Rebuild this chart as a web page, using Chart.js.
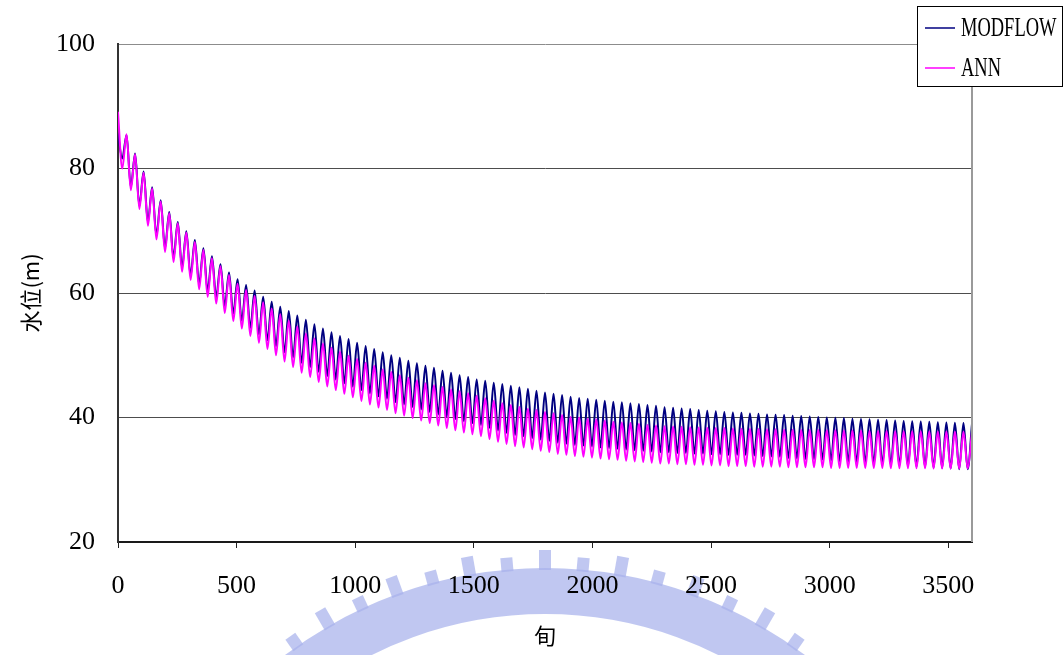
<!DOCTYPE html>
<html>
<head>
<meta charset="utf-8">
<script src="https://cdn.jsdelivr.net/npm/chart.js@4.4.1/dist/chart.umd.min.js"></script>
<style>
  html, body { margin: 0; padding: 0; background: #fff; }
  #wrap { width: 1064px; height: 655px; position: relative; }
</style>
</head>
<body>
<div id="wrap"><canvas id="c" width="1064" height="655"></canvas></div>
<script>
// one seasonal cycle = 36 旬 (ten-day periods)
const cycleLength = 36;

// water level (m) at the high point of each cycle, cycle 0..100
const modflowPeaks = [
  85.5, 85.4, 82.4, 79.5, 77.0, 74.9, 73.0, 71.4, 69.9, 68.5,
  67.2, 65.9, 64.6, 63.3, 62.2, 61.3, 60.4, 59.4, 58.6, 57.8,
  57.1, 56.4, 55.7, 55.0, 54.3, 53.7, 53.1, 52.6, 52.0, 51.5,
  51.0, 50.5, 50.0, 49.6, 49.1, 48.7, 48.3, 48.0, 47.5, 47.2,
  46.8, 46.5, 46.1, 45.9, 45.6, 45.4, 45.1, 44.85, 44.6, 44.3,
  44.0, 43.8, 43.6, 43.35, 43.15, 43.0, 42.85, 42.7, 42.55, 42.45,
  42.3, 42.15, 42.0, 41.9, 41.65, 41.55, 41.45, 41.35, 41.2, 41.1,
  41.0, 40.9, 40.8, 40.75, 40.65, 40.6, 40.5, 40.45, 40.4, 40.3,
  40.25, 40.15, 40.1, 40.0, 39.95, 39.9, 39.8, 39.75, 39.7, 39.65,
  39.6, 39.5, 39.45, 39.4, 39.35, 39.3, 39.25, 39.2, 39.15, 39.1,
  39.0
];
// water level (m) at the low point of each cycle, cycle 1..100
const modflowTroughs = [
  81.6, 77.0, 74.0, 71.4, 69.2, 67.2, 65.7, 64.1, 62.8, 61.4,
  60.3, 59.3, 57.9, 56.7, 55.55, 54.4, 53.35, 52.4, 51.45, 50.5,
  49.65, 48.8, 48.1, 47.35, 46.65, 46.1, 45.5, 44.95, 44.4, 43.85,
  43.4, 43.0, 42.5, 42.1, 41.7, 41.3, 40.9, 40.5, 40.1, 39.75,
  39.4, 39.1, 38.8, 38.35, 37.9, 37.55, 37.2, 37.0, 36.7, 36.45,
  36.25, 35.95, 35.8, 35.6, 35.5, 35.35, 35.2, 35.1, 35.0, 34.85,
  34.75, 34.65, 34.55, 34.4, 34.4, 34.3, 34.3, 34.2, 34.2, 34.1,
  34.1, 34.0, 34.0, 34.0, 33.9, 33.8, 33.75, 33.7, 33.5, 33.4,
  33.35, 33.3, 33.25, 33.1, 33.0, 32.9, 32.8, 32.7, 32.6, 32.5,
  32.4, 32.3, 32.2, 32.1, 32.05, 31.95, 31.9, 31.8, 31.7, 31.7
];
const annPeaks = [
  89.0, 85.5, 82.3, 79.3, 76.8, 74.7, 72.8, 71.2, 69.7, 68.2,
  66.9, 65.6, 64.3, 62.9, 61.5, 60.5, 59.5, 58.5, 57.5, 56.6,
  55.6, 54.6, 53.5, 52.7, 51.9, 51.2, 50.6, 49.9, 49.4, 48.8,
  48.3, 47.7, 47.3, 46.8, 46.4, 46.0, 45.5, 45.2, 44.9, 44.5,
  44.2, 43.9, 43.5, 43.1, 42.7, 42.3, 42.0, 41.7, 41.4, 41.2,
  40.9, 40.7, 40.4, 40.1, 40.0, 39.8, 39.7, 39.5, 39.3, 39.2,
  39.1, 39.0, 38.8, 38.7, 38.6, 38.55, 38.5, 38.45, 38.4, 38.35,
  38.3, 38.3, 38.25, 38.2, 38.2, 38.15, 38.1, 38.1, 38.05, 38.05,
  38.0, 38.0, 38.0, 37.95, 37.95, 37.9, 37.9, 37.9, 37.85, 37.85,
  37.85, 37.8, 37.8, 37.8, 37.8, 37.75, 37.75, 37.75, 37.7, 37.7,
  37.7
];
const annTroughs = [
  80.0, 76.5, 73.5, 70.8, 68.6, 66.6, 65.0, 63.4, 62.1, 60.6,
  59.4, 58.3, 56.8, 55.5, 54.3, 53.1, 52.0, 51.0, 50.0, 49.0,
  48.1, 47.2, 46.5, 45.7, 45.0, 44.4, 43.8, 43.25, 42.65, 42.1,
  41.6, 41.2, 40.7, 40.3, 39.9, 39.5, 39.1, 38.7, 38.3, 37.95,
  37.6, 37.3, 37.0, 36.55, 36.1, 35.75, 35.4, 35.2, 34.9, 34.65,
  34.45, 34.15, 34.0, 33.8, 33.7, 33.55, 33.4, 33.3, 33.2, 33.05,
  32.95, 32.85, 32.75, 32.6, 32.6, 32.5, 32.5, 32.4, 32.4, 32.3,
  32.3, 32.2, 32.2, 32.2, 32.1, 32.1, 32.1, 32.1, 32.0, 32.0,
  32.0, 32.0, 32.0, 31.9, 31.9, 31.9, 31.9, 31.9, 31.9, 31.9,
  31.85, 31.85, 31.85, 31.85, 31.85, 31.8, 31.8, 31.8, 31.8, 31.8
];

const seriesNames = ['MODFLOW', 'ANN'];
const seriesColors = ['#000080', '#ff00ff'];
const xTickValues = [0, 500, 1000, 1500, 2000, 2500, 3000, 3500];
const yTickValues = [20, 40, 60, 80, 100];
const xTitle = '旬';
const yTitle = '水位(m)';

// high point at the end of each cycle, low point half a cycle earlier
function buildSeries(peaks, troughs) {
  const pts = [];
  peaks.forEach((p, k) => {
    if (k > 0) pts.push({ x: k * cycleLength - cycleLength / 2, y: troughs[k - 1] });
    pts.push({ x: k * cycleLength, y: p });
  });
  return pts;
}

const tickFont = { family: 'Liberation Serif', size: 26 };
const cjkFont = { family: 'Noto Sans CJK TC', size: 22 };

// page background with the faint emblem printed under the axis labels
const backdrop = {
  id: 'backdrop',
  beforeDraw(chart) {
    const ctx = chart.ctx;
    ctx.save();
    ctx.fillStyle = '#ffffff';
    ctx.fillRect(0, 0, chart.width, chart.height);
    const cx = 545, cy = 1000, rOut = 432, rIn = 386;
    const half = 40 * Math.PI / 180;
    ctx.fillStyle = 'rgba(168,178,236,0.72)';
    ctx.beginPath();
    ctx.arc(cx, cy, rOut, -Math.PI / 2 - half, -Math.PI / 2 + half);
    ctx.arc(cx, cy, rIn, -Math.PI / 2 + half, -Math.PI / 2 - half, true);
    ctx.closePath();
    ctx.fill();
    for (let d = -35; d <= 35; d += 5) {
      const len = 12 + (Math.abs(d) % 10 === 0 ? 6 : 0);
      ctx.save();
      ctx.translate(cx, cy);
      ctx.rotate(d * Math.PI / 180);
      ctx.fillRect(-6, -(rOut + len), 12, len + 2);
      ctx.restore();
    }
    ctx.restore();
  }
};

// right frame edge and the boxed legend
const frameAndLegend = {
  id: 'frameAndLegend',
  afterDraw(chart) {
    const ctx = chart.ctx;
    const a = chart.chartArea;
    ctx.save();
    ctx.strokeStyle = '#9a9a9a';
    ctx.lineWidth = 2;
    ctx.beginPath();
    ctx.moveTo(a.right, a.top);
    ctx.lineTo(a.right, a.bottom);
    ctx.stroke();

    ctx.fillStyle = '#ffffff';
    ctx.fillRect(917, 6, 146, 80);
    ctx.strokeStyle = '#000000';
    ctx.lineWidth = 1;
    ctx.strokeRect(917.5, 6.5, 145, 80);
    chart.data.datasets.forEach((ds, i) => {
      const y = 28 + i * 40;
      ctx.strokeStyle = ds.borderColor;
      ctx.lineWidth = 1.5;
      ctx.beginPath();
      ctx.moveTo(925, y);
      ctx.lineTo(955, y);
      ctx.stroke();
      ctx.save();
      ctx.translate(961, y);
      ctx.scale(0.66, 1);
      ctx.fillStyle = '#000000';
      ctx.font = '28px "Liberation Serif"';
      ctx.textBaseline = 'middle';
      ctx.textAlign = 'left';
      ctx.fillText(ds.label, 0, 1);
      ctx.restore();
    });
    ctx.restore();
  }
};

const lineStyle = {
  borderWidth: 2,
  pointRadius: 0,
  cubicInterpolationMode: 'monotone',
  borderJoinStyle: 'round',
  borderCapStyle: 'round',
  fill: false
};

new Chart(document.getElementById('c'), {
  type: 'line',
  data: {
    datasets: [
      Object.assign({
        label: seriesNames[0],
        data: buildSeries(modflowPeaks, modflowTroughs),
        borderColor: seriesColors[0],
        order: 2
      }, lineStyle),
      Object.assign({
        label: seriesNames[1],
        data: buildSeries(annPeaks, annTroughs),
        borderColor: seriesColors[1],
        order: 1
      }, lineStyle)
    ]
  },
  options: {
    responsive: false,
    animation: false,
    devicePixelRatio: 1,
    layout: { padding: { top: 44, right: 92, bottom: 0, left: 0 } },
    plugins: {
      legend: { display: false },
      tooltip: { enabled: false },
      title: { display: false }
    },
    scales: {
      x: {
        type: 'linear',
        min: 0,
        max: 3600,
        afterBuildTicks: s => { s.ticks = xTickValues.map(v => ({ value: v })); },
        afterFit: s => { s.height = 113; },
        grid: { display: true, drawOnChartArea: false, drawTicks: true, tickLength: 6, color: '#222222', lineWidth: 1 },
        border: { display: true, color: '#1a1a1a', width: 2 },
        ticks: { font: tickFont, color: '#000000', padding: 23, maxRotation: 0, autoSkip: false, callback: v => String(v) },
        title: { display: true, text: xTitle, font: cjkFont, color: '#000000', padding: { top: 0, bottom: 6 } }
      },
      y: {
        type: 'linear',
        min: 20,
        max: 100,
        afterBuildTicks: s => { s.ticks = yTickValues.map(v => ({ value: v })); },
        afterFit: s => { s.width = 118; },
        grid: {
          display: true,
          drawTicks: false,
          lineWidth: 1,
          color: c => c.tick && c.tick.value === 100 ? '#8c8c8c' : (c.tick && c.tick.value === 20 ? 'rgba(0,0,0,0)' : '#4d4d4d')
        },
        border: { display: true, color: '#333333', width: 2 },
        ticks: { font: tickFont, color: '#000000', padding: 23, callback: v => String(v) },
        title: { display: true, text: yTitle, font: cjkFont, color: '#000000', padding: { top: 17, bottom: 0 } }
      }
    }
  },
  plugins: [backdrop, frameAndLegend]
});
</script>
</body>
</html>
